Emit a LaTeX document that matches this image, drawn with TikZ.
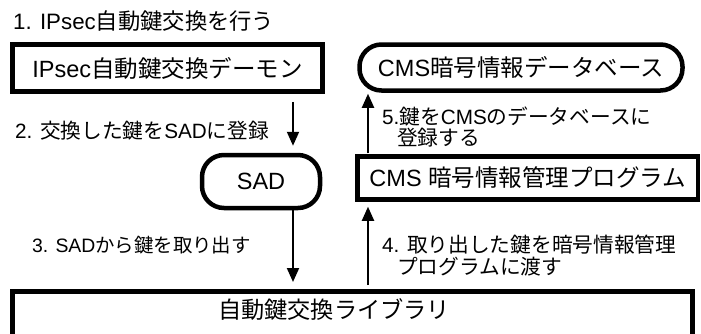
\documentclass[tikz,border=0pt]{standalone}
\usepackage{fontspec}
\setmainfont{Liberation Sans}
\newfontfamily\jpf{Noto Sans CJK JP}
\newcommand{\J}[1]{{\jpf #1}}
\usetikzlibrary{arrows.meta,calc}
\begin{document}
\begin{tikzpicture}[x=1pt,y=-1pt,
  sq/.style={draw, line width=4.5pt, inner sep=0pt, font=\fontsize{23.5}{28}\selectfont},
  pill/.style={sq, rounded corners=22pt},
  lbl/.style={anchor=west, inner sep=0pt, font=\fontsize{20.7}{22}\selectfont, align=left},
  arr/.style={line width=2pt, -{Triangle[length=14pt,width=12pt]}}]
\useasboundingbox[fill=white] (0,0) rectangle (701,333);
\clip (0,0) rectangle (701,333);
% boxes
\node[sq, minimum width=310pt, minimum height=47pt] (ike) at (167.5,68) {IPsec\J{自動鍵交換デーモン}};
\node[pill, minimum width=323pt, minimum height=46pt] (db) at (521,67.5) {CMS\J{暗号情報データベース}};
\node[pill, minimum width=118pt, minimum height=53pt] (sad) at (261,181.5) {SAD};
\node[sq, minimum width=340.5pt, minimum height=43pt] (prog) at (527.75,178) {CMS \J{暗号情報管理プログラム}};
\node[sq, minimum width=680pt, minimum height=70pt, anchor=north west] (lib) at (10,289) {};
\node[font=\fontsize{23.2}{28}\selectfont, inner sep=0pt] (libt) at (334,310) {\J{自動鍵交換ライブラリ}};
% arrow positions
\coordinate (xa) at (293,0);
\coordinate (xb) at (368,0);
\draw[arr, shorten <=8pt, shorten >=7pt] (ike.south -| xa) -- (sad.north -| xa);
\draw[arr, shorten >=7pt] (sad.south -| xa) -- (lib.north -| xa);
\draw[arr, shorten <=4pt, shorten >=5pt] (lib.north -| xb) -- (prog.south -| xb);
\draw[arr, shorten <=1pt, shorten >=1pt] (prog.north -| xb) -- (db.south -| xb);
% labels
\node[lbl, font=\fontsize{22.3}{24}\selectfont] (l1) at (13,21) {1. IPsec\J{自動鍵交換を行う}};
\node[lbl] (l2) at (15,131) {2. \J{交換した鍵を}SAD\J{に登録}};
\node[lbl, font=\fontsize{19.4}{22}\selectfont] (l3) at (32,245) {3. SAD\J{から鍵を取り出す}};
\node[lbl] (l4) at (382,256) {4. \J{取り出した鍵を暗号情報管理}\\\hspace{15pt}\J{プログラムに渡す}};
\node[lbl, font=\fontsize{20.7}{20.5}\selectfont] (l5) at (382,127) {5.\J{鍵を}CMS\J{のデータベースに}\\\hspace{15pt}\J{登録する}};
\end{tikzpicture}
\end{document}
